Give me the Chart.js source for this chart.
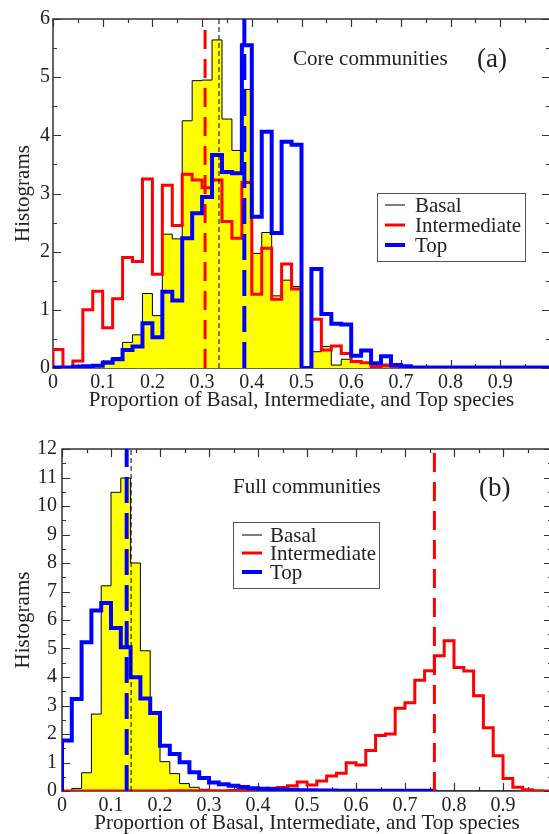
<!DOCTYPE html>
<html>
<head>
<meta charset="utf-8">
<script src="https://cdn.jsdelivr.net/npm/chart.js@4.4.1/dist/chart.umd.min.js"></script>
<style>
  html, body { margin: 0; padding: 0; background: #fff; }
  #wrap { position: relative; width: 549px; height: 834px; overflow: hidden; }
  #panelA { position: absolute; left: 0; top: 0; }
  #panelB { position: absolute; left: 0; top: 416px; }
</style>
</head>
<body>
<div id="wrap">
  <canvas id="panelA" width="550" height="420"></canvas>
  <canvas id="panelB" width="552" height="418"></canvas>
</div>
<script>
var binWidth = 0.02; // histogram bins, 0 .. 1

// (a) core communities, one value per bin
var coreBasal = [0, 0, 0, 0.02, 0.05, 0.12, 0.18, 0.44, 0.57, 1.28,
  0.90, 2.30, 2.22, 4.25, 4.94, 4.95, 5.64, 4.28, 3.74, 4.79,
  1.97, 2.33, 1.24, 1.51, 1.40, 0, 0.28, 0.37, 0.05, 0.15,
  0.11, 0.08, 0.03, 0.02, 0, 0, 0, 0, 0, 0,
  0, 0, 0, 0, 0, 0, 0, 0, 0, 0];
var coreIntermediate = [0.32, 0, 0.12, 1.00, 1.32, 0.69, 1.19, 1.90, 1.83, 3.25,
  1.61, 3.14, 2.45, 3.33, 3.23, 3.10, 3.23, 2.52, 2.23, 3.19,
  1.27, 2.06, 1.18, 1.79, 1.36, 0, 0.84, 0.31, 0.38, 0.25,
  0.11, 0.09, 0.02, 0.05, 0, 0, 0, 0, 0, 0,
  0, 0, 0, 0, 0, 0, 0, 0, 0, 0];
var coreTop = [0.01, 0.01, 0.02, 0.03, 0.04, 0.09, 0.15, 0.31, 0.37, 0.77,
  0.53, 1.31, 1.16, 2.23, 2.66, 2.94, 3.66, 3.37, 3.35, 5.55,
  2.60, 4.06, 2.32, 3.89, 3.84, 0, 1.70, 0.93, 0.76, 0.75,
  0.21, 0.30, 0.08, 0.20, 0.05, 0.03, 0.01, 0.01, 0.01, 0.01,
  0.01, 0.01, 0.01, 0.01, 0.01, 0.01, 0.01, 0.01, 0.01, 0.01];
var coreMeanBasal = 0.334;
var coreMeanIntermediate = 0.306;
var coreMeanTop = 0.385;

// (b) full communities
var fullBasal = [0, 0.09, 0.64, 2.70, 7.20, 10.48, 10.98, 8.00, 4.92, 2.76,
  1.03, 0.61, 0.26, 0.13, 0.06, 0.02, 0, 0, 0, 0,
  0, 0, 0, 0, 0, 0, 0, 0, 0, 0,
  0, 0, 0, 0, 0, 0, 0, 0, 0, 0,
  0, 0, 0, 0, 0, 0, 0, 0, 0, 0];
var fullIntermediate = [0, 0, 0, 0, 0, 0, 0, 0, 0, 0,
  0, 0.01, 0.01, 0.01, 0.01, 0.01, 0.01, 0.02, 0.03, 0.04,
  0.07, 0.10, 0.12, 0.18, 0.32, 0.21, 0.35, 0.53, 0.62, 0.99,
  0.91, 1.42, 1.95, 2.00, 2.90, 3.10, 3.89, 4.22, 4.75, 5.27,
  4.33, 4.21, 3.34, 2.22, 1.24, 0.44, 0.13, 0.04, 0.01, 0];
var fullTop = [1.77, 3.23, 5.22, 6.33, 6.60, 5.72, 5.04, 3.99, 3.25, 2.74,
  1.59, 1.30, 1.01, 0.66, 0.46, 0.30, 0.24, 0.18, 0.14, 0.10,
  0.08, 0.06, 0.05, 0.04, 0.03, 0.03, 0.02, 0.02, 0.01, 0.01,
  0.01, 0.01, 0.01, 0.01, 0.01, 0.01, 0.01, 0.01];
var fullMeanBasal = 0.141;
var fullMeanIntermediate = 0.760;
var fullMeanTop = 0.132;

var xTicks = [0, 0.1, 0.2, 0.3, 0.4, 0.5, 0.6, 0.7, 0.8, 0.9];
var xTitle = 'Proportion of Basal, Intermediate, and Top species';
var yTitle = 'Histograms';
var legendNames = ['Basal', 'Intermediate', 'Top'];

var serif = "'Liberation Serif', 'Times New Roman', serif";
var textColor = '#222';
Chart.defaults.font.family = serif;
Chart.defaults.color = textColor;

function histPoints(values) {
  var pts = [{ x: 0, y: 0 }];
  values.forEach(function(v, i) {
    pts.push({ x: i * binWidth, y: v });
  });
  pts.push({ x: values.length * binWidth, y: 0 });
  return pts;
}

function meanLine(m, yMax, color, width, dash) {
  return {
    data: [{ x: m, y: 0 }, { x: m, y: yMax }],
    borderColor: color,
    borderWidth: width,
    borderDash: dash,
    pointRadius: 0,
    fill: false,
    order: 0
  };
}

// frame, inward ticks, legend box and labels
var decorations = {
  id: 'decorations',
  beforeDatasetsDraw: function(chart, args, opts) {
    var ctx = chart.ctx;
    var a = chart.chartArea;
    var xs = chart.scales.x;
    var ys = chart.scales.y;
    ctx.save();
    ctx.strokeStyle = '#333';
    ctx.lineWidth = 1.5;
    ctx.strokeRect(a.left, a.top, a.right - a.left, a.bottom - a.top);
    ctx.lineWidth = 1.2;
    ctx.beginPath();
    for (var k = 0; k <= 20; k++) {
      var px = Math.round(xs.getPixelForValue(k * 0.05)) + 0.5;
      var len = k % 2 === 0 ? 8 : 4;
      ctx.moveTo(px, a.bottom); ctx.lineTo(px, a.bottom - len);
      ctx.moveTo(px, a.top); ctx.lineTo(px, a.top + len);
    }
    for (var j = 0; j <= opts.yMax * 2; j++) {
      var py = Math.round(ys.getPixelForValue(j * 0.5)) + 0.5;
      var l2 = j % 2 === 0 ? 8 : 4;
      ctx.moveTo(a.left, py); ctx.lineTo(a.left + l2, py);
      ctx.moveTo(a.right, py); ctx.lineTo(a.right - l2, py);
    }
    ctx.stroke();
    ctx.restore();
  },
  afterDraw: function(chart, args, opts) {
    var ctx = chart.ctx;
    ctx.save();
    ctx.fillStyle = textColor;
    ctx.textBaseline = 'alphabetic';
    ctx.textAlign = 'left';
    ctx.font = '21px ' + serif;
    ctx.fillText(opts.label, opts.labelX, opts.labelY);
    ctx.font = '27px ' + serif;
    ctx.fillText(opts.tag, opts.tagX, opts.tagY);

    var b = opts.box;
    ctx.strokeStyle = '#555';
    ctx.lineWidth = 1;
    ctx.strokeRect(b.x + 0.5, b.y + 0.5, b.w, b.h);
    var colors = ['#000000', '#ff0000', '#0000ff'];
    var widths = [1, 3, 4];
    ctx.font = '21px ' + serif;
    ctx.textBaseline = 'middle';
    for (var i = 0; i < legendNames.length; i++) {
      var ry = b.rows[i];
      ctx.strokeStyle = colors[i];
      ctx.lineWidth = widths[i];
      ctx.beginPath();
      ctx.moveTo(b.lineX, ry);
      ctx.lineTo(b.lineX + 20, ry);
      ctx.stroke();
      ctx.fillStyle = textColor;
      ctx.fillText(legendNames[i], b.textX, ry + 1);
    }
    ctx.restore();
  }
};

function makePanel(canvasId, basal, inter, top, means, cfg) {
  var datasets = [
    meanLine(means[0], cfg.yMax, '#000000', 1, [5, 3]),
    meanLine(means[1], cfg.yMax, '#ff0000', 3, [19, 10]),
    meanLine(means[2], cfg.yMax, '#0000ff', 4, [26, 10]),
    {
      data: histPoints(top),
      borderColor: '#0000ff',
      borderWidth: 4,
      stepped: true,
      pointRadius: 0,
      fill: false,
      order: 1
    },
    {
      data: histPoints(inter),
      borderColor: '#ff0000',
      borderWidth: 3,
      stepped: true,
      pointRadius: 0,
      fill: false,
      order: 2
    },
    {
      data: histPoints(basal),
      borderColor: '#000000',
      backgroundColor: '#ffff00',
      borderWidth: 1,
      stepped: true,
      pointRadius: 0,
      fill: 'origin',
      order: 3
    }
  ];

  return new Chart(document.getElementById(canvasId), {
    type: 'line',
    data: { datasets: datasets },
    plugins: [decorations],
    options: {
      responsive: false,
      animation: false,
      devicePixelRatio: 1,
      layout: { padding: { top: cfg.padTop, left: 0, right: 0, bottom: 0 } },
      plugins: {
        legend: { display: false },
        tooltip: { enabled: false },
        decorations: cfg.deco
      },
      scales: {
        x: {
          type: 'linear',
          min: 0,
          max: 1,
          afterBuildTicks: function(scale) {
            scale.ticks = xTicks.map(function(v) { return { value: v }; });
          },
          afterFit: function(scale) { scale.height = cfg.xHeight; },
          grid: { display: false, drawTicks: false },
          border: { display: false },
          ticks: {
            autoSkip: false,
            maxRotation: 0,
            padding: 3,
            font: { size: 20 },
            color: textColor,
            callback: function(v) { return v === 0 ? '0' : v.toFixed(1); }
          },
          title: {
            display: true,
            text: xTitle,
            font: { size: 21, lineHeight: 1 },
            color: textColor,
            padding: { top: 0, bottom: cfg.xTitlePad }
          }
        },
        y: {
          min: 0,
          max: cfg.yMax,
          afterFit: function(scale) { scale.width = cfg.yWidth; },
          grid: { display: false, drawTicks: false },
          border: { display: false },
          ticks: {
            stepSize: 1,
            padding: cfg.yPad,
            font: { size: 20 },
            color: textColor
          },
          title: {
            display: true,
            text: yTitle,
            font: { size: 21, lineHeight: 1 },
            color: textColor,
            padding: { top: 12.5, bottom: 0 }
          }
        }
      }
    }
  });
}

makePanel('panelA', coreBasal, coreIntermediate, coreTop,
  [coreMeanBasal, coreMeanIntermediate, coreMeanTop], {
    yMax: 6, padTop: 19, xHeight: 52, yWidth: 53, yPad: 3, xTitlePad: 9,
    deco: {
      yMax: 6,
      label: 'Core communities', labelX: 293, labelY: 65,
      tag: '(a)', tagX: 477, tagY: 67,
      box: { x: 377, y: 193, w: 148, h: 68, lineX: 385, textX: 415, rows: [205, 225, 245] }
    }
  });

makePanel('panelB', fullBasal, fullIntermediate, fullTop,
  [fullMeanBasal, fullMeanIntermediate, fullMeanTop], {
    yMax: 12, padTop: 33, xHeight: 43, yWidth: 62, yPad: 5, xTitlePad: 0,
    deco: {
      yMax: 12,
      label: 'Full communities', labelX: 233, labelY: 77,
      tag: '(b)', tagX: 479, tagY: 80,
      box: { x: 233, y: 106, w: 146, h: 66, lineX: 242, textX: 270, rows: [119, 137, 156] }
    }
  });
</script>
</body>
</html>
